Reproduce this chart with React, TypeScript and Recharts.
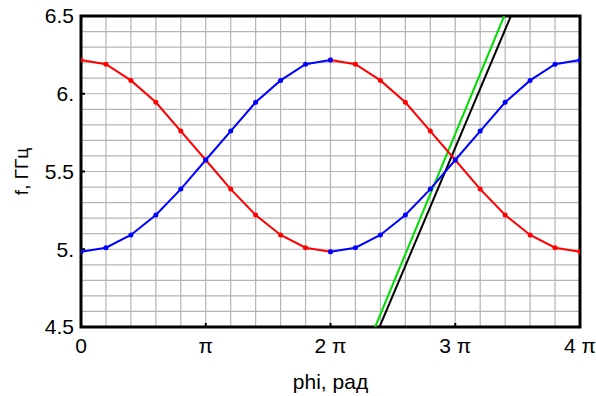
import {
  LineChart,
  Line,
  XAxis,
  YAxis,
  CartesianGrid,
  ReferenceArea,
} from 'recharts';

// phi in units of π
const phiSteps = [0, 0.2, 0.4, 0.6, 0.8, 1, 1.2, 1.4, 1.6, 1.8, 2];
const phiSteps2 = [2, 2.2, 2.4, 2.6, 2.8, 3, 3.2, 3.4, 3.6, 3.8, 4];

// dispersion branches, GHz
const lowerBand = [4.984, 5.01, 5.092, 5.22, 5.387, 5.574, 5.76, 5.945, 6.086, 6.19, 6.217];
const upperBand = [6.217, 6.19, 6.086, 5.945, 5.76, 5.574, 5.387, 5.22, 5.092, 5.01, 4.984];

// light lines (phi in π, f in GHz)
const greenLine = [
  { phi: 2.358, f: 4.5 },
  { phi: 3.392, f: 6.5 },
];
const blackLine = [
  { phi: 2.393, f: 4.5 },
  { phi: 3.446, f: 6.5 },
];

const xTicks = [0, 1, 2, 3, 4];
const xTickLabels = ['0', 'π', '2 π', '3 π', '4 π'];
const yTicks = [4.5, 5, 5.5, 6, 6.5];
const yTickLabels = ['4.5', '5.', '5.5', '6.', '6.5'];

const gridX = Array.from({ length: 21 }, (_, i) => i * 0.2);
const gridY = Array.from({ length: 21 }, (_, i) => 4.5 + i * 0.1);

const toRows = (xs: number[], ys: number[]) => xs.map((phi, i) => ({ phi, f: ys[i] }));

const blueA = toRows(phiSteps, lowerBand);
const blueB = toRows(phiSteps2, lowerBand);
const redA = toRows(phiSteps, upperBand);
const redB = toRows(phiSteps2, upperBand);

const font = { fontFamily: 'Liberation Sans, Arial, sans-serif', fontSize: 21, fill: '#000' };

const dot = (color: string) => ({ r: 2.5, fill: color, stroke: color, strokeWidth: 0 });

const App = () => {
  return (
    <div style={{ position: 'absolute', left: 0, top: 0, background: '#fff' }}>
      <LineChart width={596} height={396} margin={{ top: 16, right: 16, left: 0, bottom: 29 }}>
        <CartesianGrid
          stroke='#b4b4b4'
          strokeWidth={1.2}
          verticalValues={gridX}
          horizontalValues={gridY}
        />
        <XAxis
          type='number'
          dataKey='phi'
          domain={[0, 4]}
          ticks={xTicks}
          tickFormatter={(v: number) => xTickLabels[xTicks.indexOf(v)]}
          tick={font}
          tickSize={-4}
          tickMargin={15}
          tickLine={{ stroke: '#000', strokeWidth: 2 }}
          axisLine={false}
          height={40}
          allowDataOverflow
          label={{ value: 'phi, рад', position: 'insideBottom', offset: -22, style: font }}
        />
        <YAxis
          type='number'
          dataKey='f'
          domain={[4.5, 6.5]}
          ticks={yTicks}
          tickFormatter={(v: number) => yTickLabels[yTicks.indexOf(v)]}
          tick={font}
          tickSize={-4}
          tickMargin={11}
          tickLine={{ stroke: '#000', strokeWidth: 2 }}
          axisLine={false}
          width={81}
          allowDataOverflow
          label={{ value: 'f, ГГц', angle: -90, position: 'insideLeft', offset: 21, style: { ...font, fontSize: 19, textAnchor: 'middle' } }}
        />
        <Line data={greenLine} dataKey='f' stroke='#00dd00' strokeWidth={2} dot={false} isAnimationActive={false} />
        <Line data={blackLine} dataKey='f' stroke='#000' strokeWidth={2} dot={false} isAnimationActive={false} />
        <Line data={redA} dataKey='f' stroke='#ff0000' strokeWidth={2} dot={dot('#ff0000')} isAnimationActive={false} />
        <Line data={redB} dataKey='f' stroke='#ff0000' strokeWidth={2} dot={dot('#ff0000')} isAnimationActive={false} />
        <Line data={blueA} dataKey='f' stroke='#0000ff' strokeWidth={2} dot={dot('#0000ff')} isAnimationActive={false} />
        <Line data={blueB} dataKey='f' stroke='#0000ff' strokeWidth={2} dot={dot('#0000ff')} isAnimationActive={false} />
        <ReferenceArea x1={0} x2={4} y1={4.5} y2={6.5} fill='none' stroke='#000' strokeWidth={3} ifOverflow='visible' />
      </LineChart>
    </div>
  );
};

export default App;
